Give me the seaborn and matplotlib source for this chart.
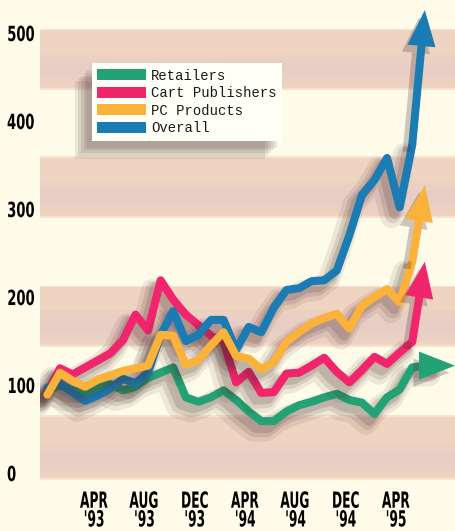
import numpy as np
import pandas as pd
import seaborn as sns
import matplotlib.pyplot as plt
import matplotlib.patheffects as pe
from matplotlib.patches import Patch
from matplotlib.transforms import Affine2D

# monthly points, month 0 = first point (winter '92/'93); last value of each series is the arrow tip
retailers = [94, 100, 94, 92, 97, 101, 94, 98, 108, 114, 120, 86, 81, 86, 94, 83,
             70, 59, 59, 70, 77, 81, 86, 90, 83, 80, 67, 86, 95, 120, 122, 122, 122]
cart_publishers = [92, 119, 112, 120, 128, 136, 151, 180, 162, 219, 197, 180, 168, 156, 149, 103,
                   115, 91, 92, 113, 114, 122, 131, 115, 103, 117, 132, 124, 137, 149, 240]
pc_products = [89, 114, 105, 98, 106, 111, 116, 119, 122, 157, 156, 123, 128, 145, 160, 133,
               130, 118, 126, 149, 160, 170, 176, 181, 164, 190, 200, 209, 194, 240, 327]
overall = [97, 102, 91, 82, 88, 96, 107, 102, 114, 157, 184, 150, 157, 174, 174, 140,
           166, 160, 188, 208, 210, 218, 219, 230, 270, 316, 333, 358, 302, 373, 526]

series = {
    "Retailers": retailers,
    "Cart Publishers": cart_publishers,
    "PC Products": pc_products,
    "Overall": overall,
}
colors = {
    "Retailers": "#23a275",
    "Cart Publishers": "#f0256b",
    "PC Products": "#fbb23a",
    "Overall": "#1b7bb3",
}
draw_order = ["Retailers", "Cart Publishers", "Overall", "PC Products"]

tick_labels = ["APR\n'93", "AUG\n'93", "DEC\n'93", "APR\n'94", "AUG\n'94", "DEC\n'94", "APR\n'95"]
tick_months = np.arange(4, 29, 4) - 0.3
yticks = [0, 100, 200, 300, 400, 500]
bands = [(-8, 66), (143, 213), (290, 360), (435, 505)]


class Squeeze(pe.AbstractPathEffect):
    """Narrow the glyphs horizontally (fake condensed face)."""

    def __init__(self, sx, anchor="center"):
        super().__init__()
        self.sx = sx
        self.anchor = anchor

    def draw_path(self, renderer, gc, tpath, affine, rgbFace=None):
        ext = tpath.get_extents()
        cx = ext.x0 if self.anchor == "left" else (ext.x0 + ext.x1) / 2
        squash = Affine2D().translate(-cx, 0).scale(self.sx, 1).translate(cx, 0)
        renderer.draw_path(gc, tpath, squash + affine, rgbFace)


rows = []
for name, vals in series.items():
    for m, v in enumerate(vals[:-1]):
        rows.append({"month": m, "value": v, "series": name})
df = pd.DataFrame(rows)

sns.set_style("white")
bg = "#fefbe9"
fig = plt.figure(figsize=(4.55, 5.31), dpi=100, facecolor=bg)
ax = fig.add_axes([40 / 455, 49 / 531, 415 / 455, 482 / 531])
ax.set_facecolor(bg)

for lo, hi in bands:
    ax.axhspan(lo, hi, color="#efd0bc", alpha=0.55, lw=0, zorder=0)
    ax.axhspan(lo + 2, hi - 2, color="#eccab9", alpha=0.6, lw=0, zorder=0)
    for k in (6, 12, 18):
        ax.axhspan(lo + k, lo + 48 - k, color="#d9bfd4", alpha=0.1, lw=0, zorder=0)

shadow = "#46282a"
line_fx = [
    pe.SimpleLineShadow(offset=(-6, -7), shadow_color=shadow, alpha=0.09, linewidth=16),
    pe.SimpleLineShadow(offset=(-5, -6), shadow_color=shadow, alpha=0.13, linewidth=11),
    pe.SimpleLineShadow(offset=(-4, -5), shadow_color=shadow, alpha=0.16, linewidth=7),
    pe.Normal(),
]

sns.lineplot(data=df, x="month", y="value", hue="series", hue_order=draw_order,
             palette=colors, linewidth=5.8, errorbar=None, legend=False, ax=ax,
             solid_capstyle="round", solid_joinstyle="round")
for line in ax.lines:
    line.set_path_effects(line_fx)

for name in draw_order:
    vals = series[name]
    n = len(vals)
    back = 2 if name == "Retailers" else 1
    ax.annotate("", xy=(n - 1 + (0.4 if name == "Retailers" else 0), vals[-1]),
                xytext=(n - 1 - back, vals[-1 - back]),
                arrowprops=dict(arrowstyle="simple,head_length=1.85,head_width=1.45,tail_width=0.41",
                                color=colors[name], lw=0, shrinkA=0, shrinkB=0, mutation_scale=14,
                                path_effects=[pe.withSimplePatchShadow(offset=(-4, -5), shadow_rgbFace=shadow,
                                                                       alpha=0.25)]),
                annotation_clip=False)

ax.set_xlim(-0.59, 32.4)
ax.set_ylim(-10.2, 537.5)
ax.set_xticks(tick_months)
ax.set_yticks(yticks)
ax.set_xticklabels(tick_labels, fontsize=16, linespacing=0.92, weight="bold", color="black",
                   path_effects=[Squeeze(0.55)])
ax.set_yticklabels([str(v) for v in yticks], fontsize=15, weight="bold", ha="left", color="black",
                   path_effects=[Squeeze(0.63, "left")])
ax.tick_params(length=0, axis="x", pad=7)
ax.tick_params(length=0, axis="y", pad=24)
ax.set_xlabel("")
ax.set_ylabel("")
sns.despine(ax=ax, left=True, bottom=True)

handles = [Patch(facecolor=colors[n], edgecolor="none") for n in series]
leg = ax.legend(handles, list(series), loc="upper left", bbox_to_anchor=(0.125, 0.869),
                borderaxespad=0, frameon=True, fancybox=False, framealpha=1,
                prop=dict(family="Liberation Mono", size=10), handlelength=3.5, handleheight=0.85,
                handletextpad=0.35, labelspacing=0.25, borderpad=0.4)
for t in leg.get_texts():
    t.set_color("#1a1a1a")
frame = leg.get_frame()
frame.set_facecolor("#fffff6")
frame.set_edgecolor("none")
frame.set_path_effects(
    [pe.SimplePatchShadow(offset=(-o, -o - 1), shadow_rgbFace=shadow, alpha=0.1) for o in (12, 10, 8, 6, 4)]
    + [pe.Normal()]
)

fig.savefig("out.png", dpi=100, facecolor=bg)
